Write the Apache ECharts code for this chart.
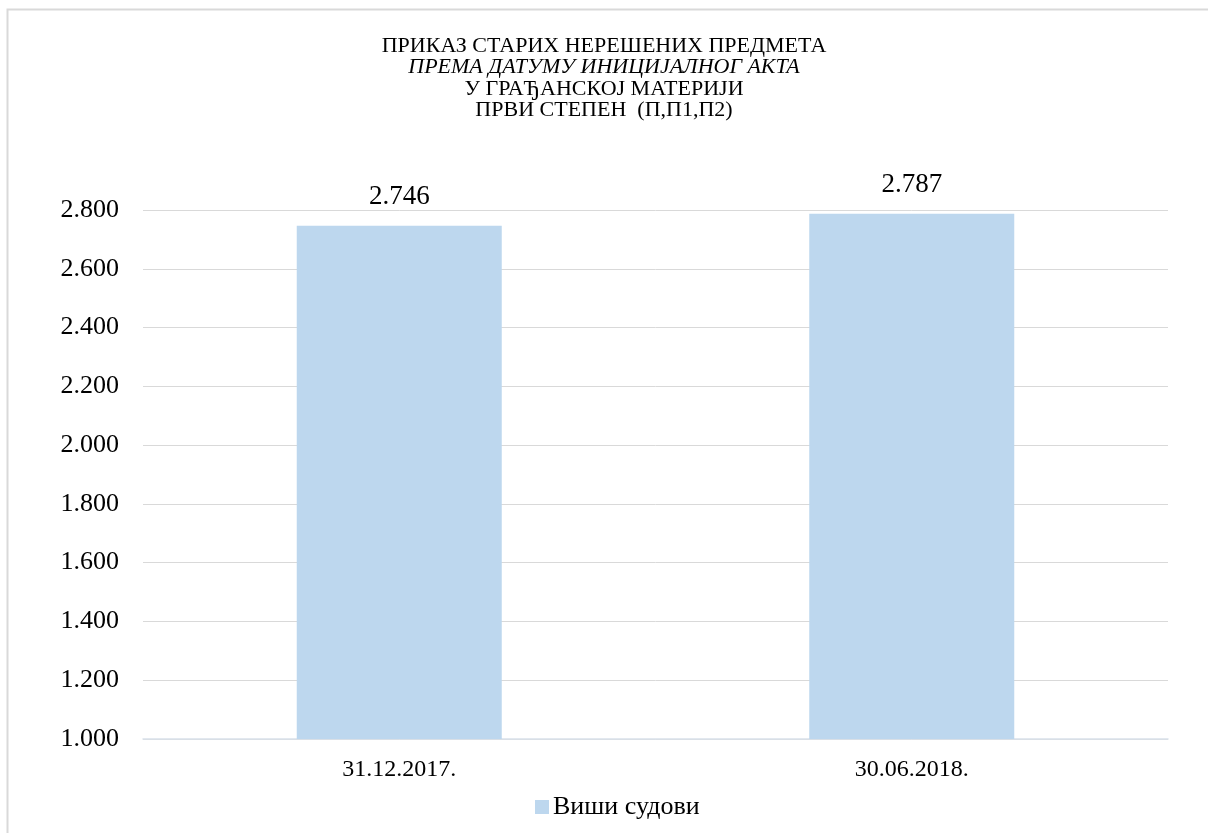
<html style="height: 100%">
<head>
	<meta charset="utf-8">
	<script type="text/javascript" src="https://cdn.jsdelivr.net/npm/echarts@6/dist/echarts.min.js"></script>
</head>

<body style="height: 100%; margin: 0; background: #fff">
	<div id="container" style="height:833px;width:1208px"></div>
</body>

<script type="text/javascript">
	// подаци
	var categories = ['31.12.2017.', '30.06.2018.'];
	var seriesName = 'Виши судови';
	var values = [2746, 2787];
	var titleLines = ['ПРИКАЗ СТАРИХ НЕРЕШЕНИХ ПРЕДМЕТА', 'ПРЕМА ДАТУМУ ИНИЦИЈАЛНОГ АКТА', 'У ГРАЂАНСКОЈ МАТЕРИЈИ', 'ПРВИ СТЕПЕН  (П,П1,П2)'];

	var dom = document.getElementById("container");
	var myChart = echarts.init(dom);
	var font = '"Liberation Serif", "Times New Roman", serif';

	// 1000 -> 1.000
	function thousands(v) {
		return String(Math.round(v)).replace(/\B(?=(\d{3})+(?!\d))/g, '.');
	}

	var option = {
		backgroundColor: '#fff',
		animation: false,
		textStyle: { fontFamily: font },
		title: {
			left: 'center',
			top: 30,
			text: '{n|' + titleLines[0] + '}\n{i|' + titleLines[1] + '}\n{n|' + titleLines[2] + '}\n{n|' + titleLines[3] + '}',
			textStyle: {
				fontWeight: 'normal',
				rich: {
					n: { fontFamily: font, fontSize: 22, color: '#000', lineHeight: 21.5, fontWeight: 'normal' },
					i: { fontFamily: font, fontSize: 22, color: '#000', lineHeight: 21.5, fontWeight: 'normal', fontStyle: 'italic' }
				}
			}
		},
		graphic: [{
			type: 'rect',
			shape: { x: 7.5, y: 9.5, width: 1220, height: 840 },
			style: { fill: 'none', stroke: '#d9d9d9', lineWidth: 2 },
			silent: true
		}],
		legend: {
			top: 789,
			left: 530,
			itemWidth: 14,
			itemHeight: 14,
			itemGap: 4,
			icon: 'rect',
			textStyle: { fontFamily: font, fontSize: 26, color: '#000', padding: [0, 0, 0, -1] },
			data: [seriesName]
		},
		grid: { left: 143, right: 40, top: 210, bottom: 94 },
		xAxis: {
			type: 'category',
			data: categories,
			axisTick: { show: false },
			axisLine: { lineStyle: { color: '#d9e1ea', width: 1.5 } },
			axisLabel: { fontFamily: font, fontSize: 24, color: '#000', margin: 19 }
		},
		yAxis: {
			type: 'value',
			min: 1000,
			max: 2800,
			interval: 200,
			axisLine: { show: false },
			axisTick: { show: false },
			splitLine: { lineStyle: { color: '#d9d9d9', width: 1 } },
			axisLabel: {
				fontFamily: font, fontSize: 26, color: '#000', margin: 24,
				formatter: function (v) { return thousands(v); }
			}
		},
		series: [{
			name: seriesName,
			type: 'bar',
			barWidth: '40%',
			itemStyle: { color: '#bdd7ee' },
			label: {
				show: true,
				position: 'top',
				distance: 15,
				fontFamily: font,
				fontSize: 27,
				color: '#000',
				formatter: function (p) { return thousands(p.value); }
			},
			data: values
		}]
	};

	myChart.setOption(option);
</script>

</html>
